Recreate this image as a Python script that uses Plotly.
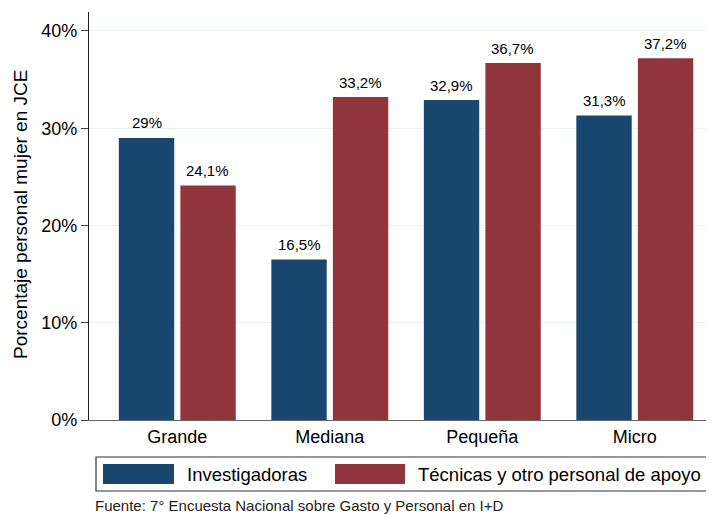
import plotly.graph_objects as go

categories = ["Grande", "Mediana", "Pequeña", "Micro"]
investigadoras = [29.0, 16.5, 32.9, 31.3]
tecnicas = [24.1, 33.2, 36.7, 37.2]
series_names = ["Investigadoras", "Técnicas y otro personal de apoyo"]
y_ticks = [0, 10, 20, 30, 40]
y_tick_labels = ["0%", "10%", "20%", "30%", "40%"]
source_note = "Fuente: 7° Encuesta Nacional sobre Gasto y Personal en I+D"

NAVY = "#1a476f"
MAROON = "#90353b"
FONT = "Liberation Sans, Arial, sans-serif"

# page body has an 8px margin; the figure is sized to fit the 714x514 window
OFF = 8
W, H = 714 - OFF, 514 - OFF
PLOT_L, PLOT_R, PLOT_T, PLOT_B = 89, 714, 12, 420  # window pixel coords
ML = PLOT_L - OFF
MR = 714 - PLOT_R
MT = PLOT_T - OFF
MB = 514 - PLOT_B
PW = PLOT_R - PLOT_L
PH = PLOT_B - PLOT_T


def px_x(p):
    return (p - PLOT_L) / PW


def px_y(p):
    return (PLOT_B - p) / PH


def fmt(v):
    return f"{v:g}".replace(".", ",") + "%"


xpos = list(range(len(categories)))

fig = go.Figure()
fig.add_trace(go.Bar(x=xpos, y=investigadoras, name=series_names[0],
                     marker=dict(color=NAVY, line=dict(width=0)), showlegend=False))
fig.add_trace(go.Bar(x=xpos, y=tecnicas, name=series_names[1],
                     marker=dict(color=MAROON, line=dict(width=0)), showlegend=False))

annotations = []
for series, off in ((investigadoras, -0.2), (tecnicas, 0.2)):
    for i, v in enumerate(series):
        annotations.append(dict(x=i + off, y=v, xref="x", yref="y", text=fmt(v),
                                showarrow=False, yanchor="middle", yshift=15,
                                font=dict(size=15, color="black", family=FONT)))

# y axis title
annotations.append(dict(x=px_x(20), y=px_y(215), xref="paper", yref="paper",
                        text="Porcentaje personal mujer en JCE", textangle=-90,
                        showarrow=False, xanchor="center", yanchor="middle",
                        font=dict(size=19, color="black", family=FONT)))

# legend texts
annotations.append(dict(x=px_x(185), y=px_y(474), xref="paper", yref="paper",
                        text=series_names[0], showarrow=False, xanchor="left",
                        yanchor="middle", font=dict(size=18.5, color="black", family=FONT)))
annotations.append(dict(x=px_x(416), y=px_y(474), xref="paper", yref="paper",
                        text=series_names[1], showarrow=False, xanchor="left",
                        yanchor="middle", font=dict(size=18.5, color="black", family=FONT)))

# source note
annotations.append(dict(x=px_x(93), y=px_y(506), xref="paper", yref="paper",
                        text=source_note, showarrow=False, xanchor="left",
                        yanchor="middle", font=dict(size=15, color="#222", family=FONT)))

shapes = [
    dict(type="rect", xref="paper", yref="paper", x0=px_x(96), x1=px_x(713),
         y0=px_y(491), y1=px_y(457), line=dict(color="#333", width=1.2),
         fillcolor="white"),
    dict(type="rect", xref="paper", yref="paper", x0=px_x(103), x1=px_x(174),
         y0=px_y(484), y1=px_y(464), line=dict(width=0), fillcolor=NAVY),
    dict(type="rect", xref="paper", yref="paper", x0=px_x(335), x1=px_x(405),
         y0=px_y(484), y1=px_y(464), line=dict(width=0), fillcolor=MAROON),
]

fig.update_layout(
    width=W, height=H,
    margin=dict(l=ML, r=MR, t=MT, b=MB, pad=0),
    paper_bgcolor="white", plot_bgcolor="white",
    barmode="group", bargap=0.193, bargroupgap=0.1,
    font=dict(family=FONT, color="black"),
    annotations=annotations, shapes=shapes,
    showlegend=False,
)
fig.update_xaxes(range=[-0.579, -0.579 + PW / 152.5], tickmode="array",
                 tickvals=xpos, ticktext=categories, showgrid=False,
                 showline=True, linecolor="#666", linewidth=1.2, ticks="",
                 tickfont=dict(size=18, color="black", family=FONT),
                 zeroline=False, fixedrange=True)
fig.update_yaxes(range=[0, 41.95], tickmode="array", tickvals=y_ticks,
                 ticktext=y_tick_labels, showgrid=True, gridcolor="#eaf2f3",
                 gridwidth=1.2, showline=True, linecolor="#222", linewidth=1.2,
                 ticks="outside", ticklen=7, tickcolor="#444", tickwidth=1.2,
                 tickfont=dict(size=18, color="black", family=FONT),
                 zeroline=False, fixedrange=True)

fig.write_html("out.html")
